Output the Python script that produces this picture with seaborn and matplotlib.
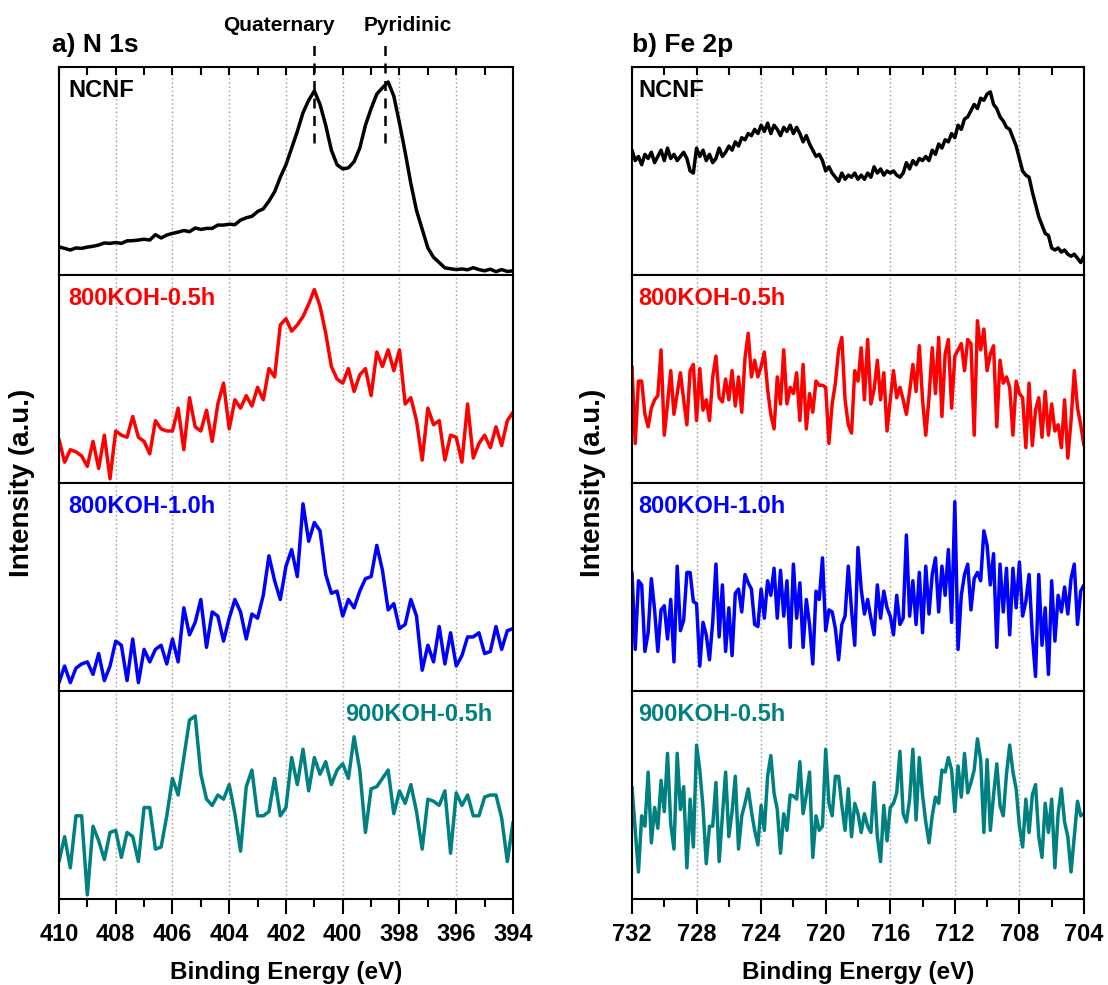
import numpy as np
import pandas as pd
import matplotlib
matplotlib.use("Agg")
import matplotlib.pyplot as plt
from matplotlib.ticker import MultipleLocator
import seaborn as sns

# --- data (intensities in arbitrary units, 0-100 per panel) ---
n1s_energy = np.linspace(410.0, 394.0, 81)      # 0.2 eV steps
fe2p_energy = np.linspace(732.0, 704.0, 141)    # 0.2 eV steps

n1s_ncnf = [
    13.5, 12.8, 12.0, 13.0, 12.8, 13.4, 13.8, 14.4, 15.4, 15.2,
    15.6, 15.2, 16.4, 16.5, 16.8, 17.2, 16.8, 19.4, 17.8, 19.2,
    20.0, 20.6, 21.4, 20.8, 22.6, 21.9, 22.4, 22.4, 24.0, 24.0,
    24.4, 24.2, 26.4, 27.5, 28.2, 30.5, 31.8, 35.5, 40.0, 47.0,
    53.0, 61.0, 69.0, 78.0, 84.0, 88.5, 82.0, 72.0, 60.0, 53.0,
    51.0, 51.5, 54.5, 61.0, 72.0, 80.0, 87.0, 90.0, 92.8, 86.0,
    73.0, 59.0, 44.0, 31.0, 22.0, 13.0, 8.5, 6.0, 3.4, 3.0,
    2.6, 2.9, 2.5, 3.5, 2.6, 2.0, 2.8, 1.6, 2.6, 1.7,
    2.0,
]
n1s_800_05 = [
    21, 10, 16, 15, 13, 8, 20, 7, 23, 2,
    25, 23, 22, 32, 22, 20, 14, 30, 26, 25,
    25, 36, 16, 41, 27, 25, 35, 20, 38, 48,
    26, 40, 36, 42, 37, 46, 40, 55, 51, 76,
    79, 73, 76, 80, 86, 93, 85, 72, 56, 50,
    48, 55, 44, 52, 55, 42, 63, 56, 64, 54,
    64, 38, 41, 30, 11, 36, 28, 30, 11, 23,
    22, 10, 38, 12, 19, 23, 17, 27, 18, 30,
    34,
]
n1s_800_10 = [
    4, 12, 4, 11, 13, 14, 8, 18, 5, 12,
    24, 22, 5, 25, 4, 20, 14, 20, 22, 13,
    25, 14, 40, 27, 33, 44, 21, 38, 36, 24,
    35, 44, 38, 25, 37, 35, 46, 65, 53, 44,
    60, 68, 55, 90, 72, 81, 77, 56, 47, 48,
    36, 44, 40, 48, 54, 55, 70, 58, 39, 42,
    30, 32, 44, 36, 10, 22, 14, 31, 13, 28,
    12, 17, 26, 26, 28, 18, 19, 31, 20, 29,
    30,
]
n1s_900_05 = [
    18, 30, 15, 40, 40, 2, 35, 28, 19, 32,
    33, 20, 32, 30, 18, 44, 44, 24, 25, 40,
    58, 50, 68, 86, 88, 60, 48, 45, 50, 48,
    55, 41, 23, 54, 62, 40, 40, 42, 58, 40,
    44, 68, 55, 72, 52, 68, 60, 66, 55, 62,
    65, 58, 78, 62, 32, 53, 54, 58, 62, 41,
    52, 46, 55, 42, 24, 48, 47, 45, 52, 22,
    51, 45, 50, 40, 40, 49, 50, 50, 39, 18,
    37,
]

fe2p_ncnf = [
    60, 55, 57, 53, 58, 56, 59, 54, 57, 60, 55,
    61, 56, 58, 55, 57, 59, 56, 50, 49, 61,
    57, 60, 55, 58, 54, 56, 61, 57, 59, 62,
    60, 64, 62, 66, 65, 68, 67, 70, 68, 72,
    69, 73, 68, 72, 70, 67, 71, 69, 72, 68,
    71, 68, 64, 67, 63, 60, 57, 58, 55, 50,
    52, 49, 47, 45, 49, 46, 48, 47, 49, 46,
    48, 46, 49, 47, 52, 49, 51, 48, 50, 49,
    50, 48, 47, 49, 54, 51, 55, 53, 56, 55,
    57, 55, 60, 58, 63, 61, 65, 64, 68, 66,
    72, 70, 75, 76, 79, 82, 80, 85, 84, 87,
    88, 82, 80, 76, 74, 71, 70, 66, 62, 56,
    50, 48, 47, 40, 34, 28, 24, 20, 19, 13,
    12, 13, 11, 12, 10, 9, 10, 8, 6, 9,
]
fe2p_800_05 = [
    56, 19, 49, 49, 33, 27, 36, 40, 42, 64, 23,
    38, 54, 33, 43, 53, 40, 28, 54, 57, 30,
    55, 35, 40, 30, 51, 61, 41, 39, 50, 40,
    54, 37, 51, 34, 60, 72, 51, 59, 51, 56,
    63, 45, 33, 26, 51, 38, 64, 38, 46, 43,
    53, 30, 57, 26, 43, 34, 49, 47, 47, 46,
    19, 38, 48, 64, 70, 40, 28, 24, 54, 49,
    65, 40, 69, 38, 45, 59, 40, 53, 25, 40,
    54, 41, 46, 40, 33, 44, 57, 44, 66, 40,
    23, 41, 65, 43, 70, 32, 62, 69, 36, 61,
    64, 67, 54, 69, 67, 23, 78, 64, 74, 54,
    62, 66, 27, 59, 48, 51, 46, 23, 49, 43,
    41, 17, 48, 18, 35, 41, 22, 44, 23, 38,
    25, 28, 17, 40, 12, 30, 54, 36, 28, 18,
]
fe2p_800_10 = [
    57, 20, 53, 51, 19, 28, 54, 39, 19, 39, 41,
    25, 44, 14, 60, 29, 34, 57, 57, 43, 42,
    12, 33, 27, 15, 33, 61, 26, 51, 19, 40,
    17, 47, 49, 38, 56, 52, 49, 32, 31, 49,
    35, 53, 46, 59, 35, 58, 36, 53, 21, 61,
    35, 52, 21, 44, 32, 13, 48, 44, 64, 29,
    39, 38, 30, 15, 32, 36, 60, 39, 22, 69,
    49, 37, 44, 35, 27, 51, 35, 48, 40, 36,
    27, 46, 32, 35, 75, 36, 53, 32, 57, 28,
    60, 37, 56, 64, 38, 60, 46, 68, 33, 91,
    20, 46, 56, 61, 39, 54, 57, 53, 77, 70,
    51, 66, 21, 61, 38, 59, 27, 59, 40, 62,
    36, 43, 56, 27, 7, 56, 22, 40, 8, 53,
    24, 46, 38, 50, 37, 54, 61, 32, 48, 51,
]
fe2p_900_05 = [
    54, 33, 13, 40, 35, 61, 27, 44, 34, 57, 42,
    70, 36, 24, 70, 43, 54, 15, 48, 25, 74,
    62, 44, 17, 35, 35, 56, 18, 40, 61, 30,
    42, 59, 24, 40, 46, 53, 42, 33, 26, 45,
    33, 59, 69, 51, 43, 22, 41, 33, 50, 49.5,
    48, 66, 41, 50, 61, 20, 40, 33, 35, 72,
    46, 40, 59, 59, 45, 33, 53, 30, 46, 41,
    32, 41, 35, 32, 56, 30, 18, 45, 28, 44,
    46, 51, 71, 41, 37, 48, 72, 38, 68, 50,
    37, 27, 40, 49, 46, 62, 61, 68, 62, 42,
    64, 49, 70, 51, 56, 62, 77, 67, 32, 67,
    33, 50, 65, 45, 40, 60, 74, 61, 53, 35,
    25, 48, 32, 50, 55, 30, 20, 46, 32, 48,
    15, 41, 53, 37, 30, 13, 30, 47, 40, 41,
]

sample_names = ["NCNF", "800KOH-0.5h", "800KOH-1.0h", "900KOH-0.5h"]
sample_colors = ["#000000", "#ff0000", "#0000ff", "#008080"]
n1s_series = [n1s_ncnf, n1s_800_05, n1s_800_10, n1s_900_05]
fe2p_series = [fe2p_ncnf, fe2p_800_05, fe2p_800_10, fe2p_900_05]

n1s_peaks = {"Quaternary": 401.0, "Pyridinic": 398.5}
n1s_peak_text_x = {"Quaternary": 402.25, "Pyridinic": 397.7}

# --- style ---
sns.set_style("ticks")
plt.rcParams["font.family"] = ["Liberation Sans", "DejaVu Sans"]
plt.rcParams["font.weight"] = "bold"
plt.rcParams["axes.linewidth"] = 1.5
plt.rcParams["text.color"] = "black"
plt.rcParams["axes.labelcolor"] = "black"
plt.rcParams["xtick.color"] = "black"
plt.rcParams["ytick.color"] = "black"

fig = plt.figure(figsize=(11.08, 9.85), dpi=100)
gs_left = fig.add_gridspec(4, 1, left=0.0532, right=0.463, top=0.932, bottom=0.0873, hspace=0)
gs_right = fig.add_gridspec(4, 1, left=0.5704, right=0.9783, top=0.932, bottom=0.0873, hspace=0)


def draw_column(gs, energy, series, xlim, major, minor, label_x, teal_right):
    axes = []
    for k in range(4):
        ax = fig.add_subplot(gs[k])
        df = pd.DataFrame({"energy": energy, "intensity": series[k]})
        sns.lineplot(data=df, x="energy", y="intensity", ax=ax,
                     color=sample_colors[k], linewidth=2.5)
        ax.set_xlim(*xlim)
        ax.set_ylim(0, 100)
        ax.set_xlabel("")
        ax.set_ylabel("")
        ax.set_yticks([])
        ax.xaxis.set_major_locator(MultipleLocator(major))
        ax.xaxis.set_minor_locator(MultipleLocator(minor))
        ax.grid(axis="x", which="major", color="#999999", linestyle=(0, (1, 2)), linewidth=1.0)
        for sp in ax.spines.values():
            sp.set_linewidth(1.5)
            sp.set_color("black")
        ax.tick_params(axis="x", which="both", bottom=False, top=False, labelbottom=False)
        if k == 0:
            ax.tick_params(axis="x", which="both", top=True, direction="in",
                           length=6, width=1.5)
        if k == 3:
            ax.tick_params(axis="x", which="both", bottom=True, direction="out",
                           width=1.5, labelbottom=True, labelsize=17, pad=6,
                           labelcolor="black")
            ax.tick_params(axis="x", which="major", length=11)
            ax.tick_params(axis="x", which="minor", length=6)
            for t in ax.get_xticklabels():
                t.set_fontweight("bold")
        if k == 3 and teal_right:
            ax.text(0.955, 0.94, sample_names[k], transform=ax.transAxes, ha="right",
                    va="top", color=sample_colors[k], fontsize=17, fontweight="bold")
        else:
            ax.text(label_x, 0.94, sample_names[k], transform=ax.transAxes, ha="left",
                    va="top", color=sample_colors[k], fontsize=17, fontweight="bold")
        axes.append(ax)
    return axes


left_axes = draw_column(gs_left, n1s_energy, n1s_series, (410, 394), 2, 1, 0.02, True)
right_axes = draw_column(gs_right, fe2p_energy, fe2p_series, (732, 704), 4, 2, 0.013, False)

# peak markers on the N 1s NCNF panel
top_ax = left_axes[0]
for name, xpos in n1s_peaks.items():
    top_ax.plot([xpos, xpos], [63.5, 111.5], color="black", linestyle=(0, (4, 3)),
                linewidth=1.8, clip_on=False)
    top_ax.text(n1s_peak_text_x[name], 120, name, ha="center", va="center",
                fontsize=15, fontweight="bold", clip_on=False)

# panel titles
fig.text(0.047, 0.954, "a) N 1s", ha="left", va="center", fontsize=19, fontweight="bold")
fig.text(0.570, 0.954, "b) Fe 2p", ha="left", va="center", fontsize=19, fontweight="bold")

# axis labels
fig.text(0.020, 0.51, "Intensity (a.u.)", rotation=90, ha="center", va="center",
         fontsize=20, fontweight="bold")
fig.text(0.535, 0.51, "Intensity (a.u.)", rotation=90, ha="center", va="center",
         fontsize=20, fontweight="bold")
fig.text((0.0532 + 0.463) / 2, 0.006, "Binding Energy (eV)", ha="center", va="baseline",
         fontsize=17.5, fontweight="bold")
fig.text((0.5704 + 0.9783) / 2, 0.006, "Binding Energy (eV)", ha="center", va="baseline",
         fontsize=17.5, fontweight="bold")

fig.savefig("out.png", dpi=100)
